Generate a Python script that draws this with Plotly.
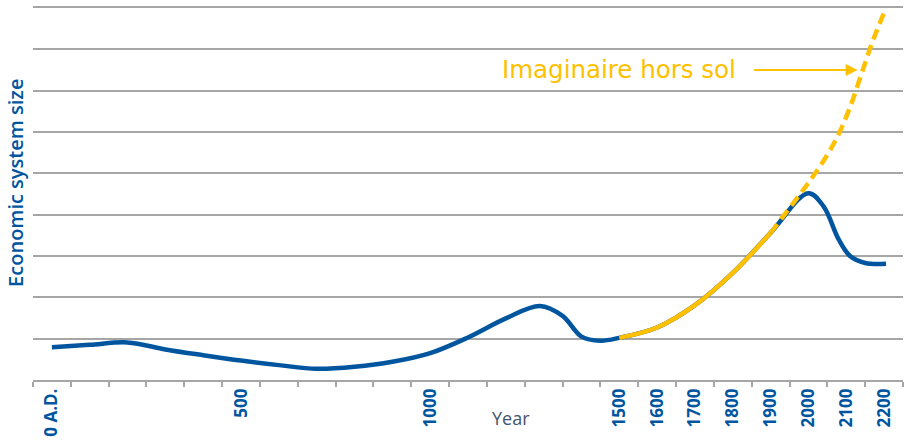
import plotly.graph_objects as go

# Data
blue_years = [0, 100, 200, 300, 400, 500, 600, 700, 800, 900, 1000, 1100, 1200, 1290, 1350, 1400, 1450, 1500,
              1600, 1700, 1800, 1900, 2000, 2040, 2080, 2110, 2150, 2205]
blue_vals = [0.79, 0.85, 0.91, 0.74, 0.60, 0.47, 0.36, 0.27, 0.32, 0.44, 0.65, 1.03, 1.49, 1.79, 1.55, 1.05, 0.95, 1.02,
             1.27, 1.81, 2.59, 3.56, 4.52, 4.2, 3.4, 3.0, 2.83, 2.81]

yellow_solid_years = [1500, 1600, 1700, 1800, 1900]
yellow_solid_vals = [1.02, 1.27, 1.81, 2.59, 3.56]

yellow_dash_years = [1900, 1960, 2010, 2050, 2080, 2110, 2140, 2170, 2205]
yellow_dash_vals = [3.56, 4.28, 4.9, 5.45, 5.95, 6.6, 7.4, 8.2, 9.0]

tick_years = [0, 500, 1000, 1500, 1600, 1700, 1800, 1900, 2000, 2100, 2200]
tick_labels = ["0 A.D.", "500", "1000", "1500", "1600", "1700", "1800", "1900", "2000", "2100", "2200"]
minor_ticks = [y - 50 for y in range(0, 2301, 100)]

BLUE = "#00559F"
YELLOW = "#FFC000"
GRID = "#A6A6A6"

fig = go.Figure()
fig.add_trace(go.Scatter(x=blue_years, y=blue_vals, mode="lines",
                         line=dict(color=BLUE, width=4.5, shape="spline", smoothing=1.0)))
fig.add_trace(go.Scatter(x=yellow_solid_years, y=yellow_solid_vals, mode="lines",
                         line=dict(color=YELLOW, width=4.5, shape="spline", smoothing=1.0)))
fig.add_trace(go.Scatter(x=yellow_dash_years, y=yellow_dash_vals, mode="lines",
                         line=dict(color=YELLOW, width=4.5, shape="spline", smoothing=1.0, dash="11px,6px")))

fig.update_layout(
    width=905, height=441,
    margin=dict(l=33, r=2, t=8, b=61, autoexpand=False),
    paper_bgcolor="white", plot_bgcolor="white",
    showlegend=False,
    xaxis=dict(range=[-50, 2250], tickmode="array", tickvals=tick_years, ticktext=tick_labels,
               tickangle=-90, ticks="", showgrid=False, zeroline=False, automargin=False,
               showline=True, mirror=True, linecolor=GRID, linewidth=1.5,
               tickfont=dict(family="Open Sans", size=17, color=BLUE, weight="bold"),
               minor=dict(tickmode="array", tickvals=minor_ticks, ticks="outside", ticklen=5,
                          tickcolor=GRID, tickwidth=1.5, showgrid=False)),
    yaxis=dict(range=[0, 9], dtick=1, showgrid=True, gridcolor=GRID, gridwidth=1.5, automargin=False,
               showticklabels=False, zeroline=False, ticks=""),
)

fig.add_annotation(text="Economic system size", xref="paper", yref="paper",
                   x=-0.0195, y=0.53, textangle=-90, showarrow=False,
                   xanchor="center", yanchor="middle",
                   font=dict(family="Open Sans", size=20, color=BLUE, weight=600))
fig.add_annotation(text="Year", xref="paper", yref="paper",
                   x=(511 - 33) / 870, y=-(418 - 380) / 372, showarrow=False,
                   xanchor="center", yanchor="middle",
                   font=dict(family="Open Sans", size=18, color="#44546A"))
fig.add_annotation(text="Imaginaire hors sol", xref="paper", yref="paper",
                   x=(500 - 33) / 870, y=(380 - 70) / 372, showarrow=False,
                   xanchor="left", yanchor="middle",
                   font=dict(family="DejaVu Sans", size=24.5, color=YELLOW))
fig.add_annotation(text="", x=2130, y=7.5, ax=-105, ay=0, showarrow=True,
                   arrowhead=2, arrowsize=1.2, arrowwidth=2, arrowcolor=YELLOW)

fig.write_html("out.html", config={"displayModeBar": False},
               post_script="document.body.style.margin='0';document.body.style.overflow='hidden';")
